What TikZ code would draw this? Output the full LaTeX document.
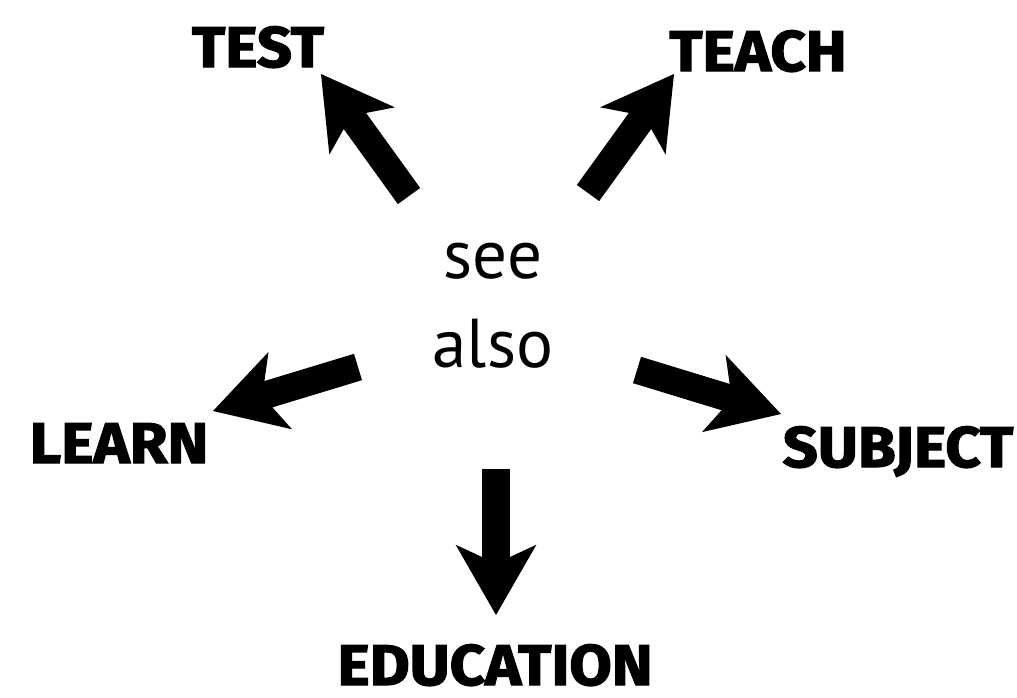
\documentclass[tikz,border=0pt]{standalone}
\usepackage{fontspec}
\usetikzlibrary{arrows.meta}
\newfontfamily\heavyfont{Fira Sans}[BoldFeatures={FakeBold=2.2, FakeStretch=1.07}]
\newfontfamily\seefont{PT Sans}

\tikzset{
  word/.style={font=\heavyfont\bfseries\fontsize{49}{49}\selectfont, inner sep=0pt, anchor=base},
  seeword/.style={font=\seefont\fontsize{59}{59}\selectfont, inner sep=0pt, anchor=base},
  bigarrow/.style={line width=23.5pt, -{Stealth[length=60pt, width=69pt, inset=16pt, line width=0pt]}}
}

\begin{document}
\begin{tikzpicture}[x=0.03cm, y=-0.03cm]
  \useasboundingbox (0,0) rectangle (1017,697);
  % centre text
  \node[seeword] (see) at (493,278) {see};
  \node[seeword] (also) at (493,367) {also};
  % the five words
  \node[word] (test) at (258,67) {TEST};
  \node[word] (teach) at (758,71) {TEACH};
  \node[word] (learn) at (119,463) {LEARN};
  \node[word] (subject) at (898,467) {SUBJECT};
  \node[word] (education) at (495,685) {EDUCATION};
  % arrow ends
  \coordinate (testtail) at (409,196);
  \coordinate (testtip) at (321,74);
  \coordinate (teachtail) at (588,193);
  \coordinate (teachtip) at (674,74);
  \coordinate (learntail) at (358,367);
  \coordinate (learntip) at (213,411);
  \coordinate (subjecttail) at (637,370);
  \coordinate (subjecttip) at (781,414);
  \coordinate (edutail) at (496,469);
  \coordinate (edutip) at (496,615);
  \draw[bigarrow] (testtail) -- (testtip);
  \draw[bigarrow] (teachtail) -- (teachtip);
  \draw[bigarrow] (learntail) -- (learntip);
  \draw[bigarrow] (subjecttail) -- (subjecttip);
  \draw[bigarrow] (edutail) -- (edutip);
\end{tikzpicture}
\end{document}
